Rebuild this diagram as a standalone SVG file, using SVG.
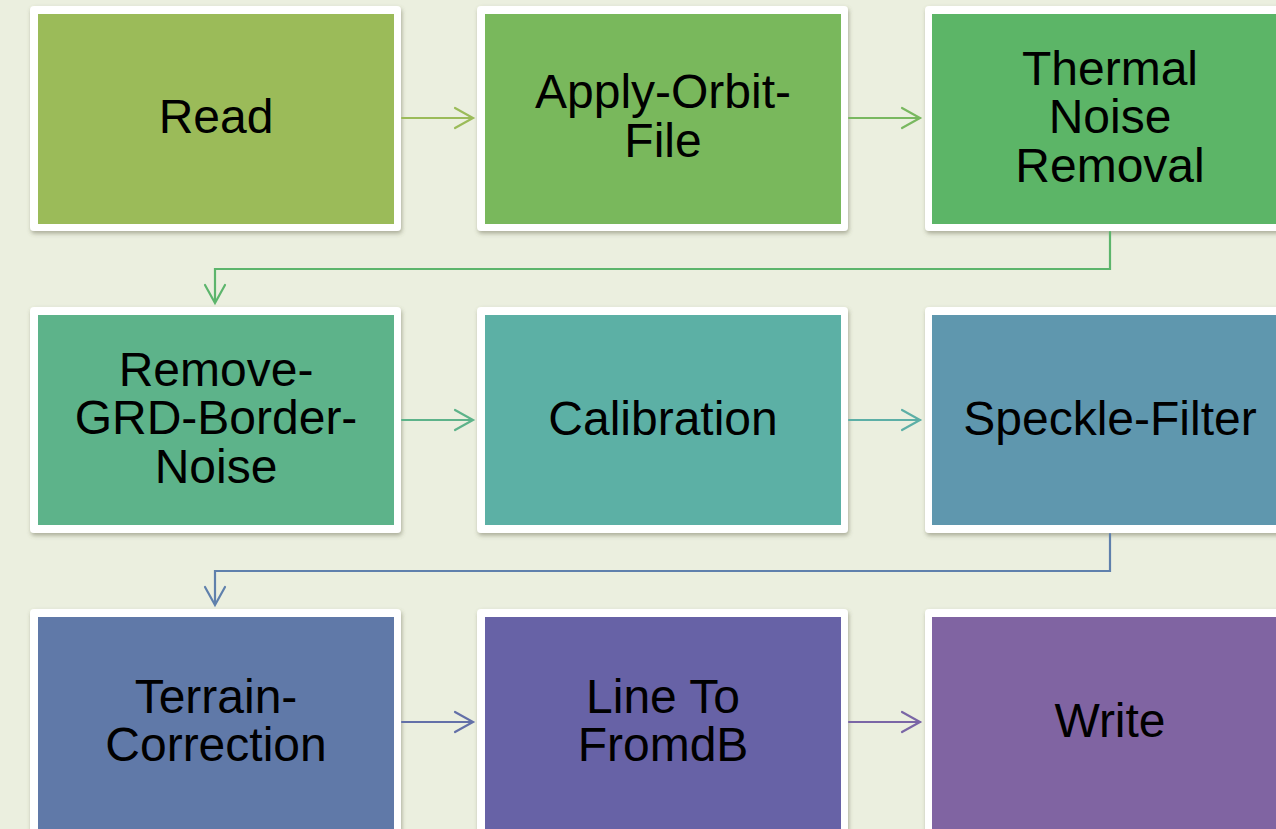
<svg xmlns="http://www.w3.org/2000/svg" width="1276" height="829" viewBox="0 0 1276 829">
<style>
.frame{fill:#ffffff;filter:url(#sh)}
.lbl{font-family:"Liberation Sans",Arial,sans-serif;font-size:48px;fill:#000;text-anchor:middle}
.cn{fill:none;stroke-width:2.2;stroke-linecap:round;stroke-linejoin:miter}
</style>
<defs>
<filter id="sh" x="-5%" y="-5%" width="110%" height="115%">
<feDropShadow dx="1" dy="2.5" stdDeviation="2" flood-color="#5a5a40" flood-opacity="0.45"/>
</filter>
</defs>
<rect width="1276" height="829" fill="#ebefdf"/>

<g id="n1"><rect class="frame" x="30" y="6" width="371" height="225" rx="4"/><rect x="38" y="14" width="356" height="210" fill="#9bbb59"/><text class="lbl" x="216" y="133">Read</text></g>
<g id="n2"><rect class="frame" x="477" y="6" width="371" height="225" rx="4"/><rect x="485" y="14" width="356" height="210" fill="#79b85c"/><text class="lbl" x="663" y="108">Apply-Orbit-</text><text class="lbl" x="663" y="157">File</text></g>
<g id="n3"><rect class="frame" x="925" y="6" width="371" height="225" rx="4"/><rect x="932" y="14" width="356" height="210" fill="#5cb567"/><text class="lbl" x="1110" y="84.5">Thermal</text><text class="lbl" x="1110" y="133.2">Noise</text><text class="lbl" x="1110" y="181.8">Removal</text></g>

<g id="n4"><rect class="frame" x="30" y="307" width="371" height="226" rx="4"/><rect x="38" y="315" width="356" height="210" fill="#5db38a"/><text class="lbl" x="216" y="385.7">Remove-</text><text class="lbl" x="216" y="434.2">GRD-Border-</text><text class="lbl" x="216" y="482.7">Noise</text></g>
<g id="n5"><rect class="frame" x="477" y="307" width="371" height="226" rx="4"/><rect x="485" y="315" width="356" height="210" fill="#5cb0a5"/><text class="lbl" x="663" y="435">Calibration</text></g>
<g id="n6"><rect class="frame" x="925" y="307" width="371" height="226" rx="4"/><rect x="932" y="315" width="356" height="210" fill="#5f97ae"/><text class="lbl" x="1110" y="435">Speckle-Filter</text></g>

<g id="n7"><rect class="frame" x="30" y="609" width="371" height="226" rx="4"/><rect x="38" y="617" width="356" height="212" fill="#6079a8"/><text class="lbl" x="216" y="712.5">Terrain-</text><text class="lbl" x="216" y="761">Correction</text></g>
<g id="n8"><rect class="frame" x="477" y="609" width="371" height="226" rx="4"/><rect x="485" y="617" width="356" height="212" fill="#6762a6"/><text class="lbl" x="663" y="712.7">Line To</text><text class="lbl" x="663" y="761">FromdB</text></g>
<g id="n9"><rect class="frame" x="925" y="609" width="371" height="226" rx="4"/><rect x="932" y="617" width="356" height="212" fill="#8064a2"/><text class="lbl" x="1110" y="737">Write</text></g>

<g id="connectors">
<g stroke="#9bbb59" class="cn"><path d="M402 118H472"/><path d="M455 108L473 118L455 128"/></g>
<g stroke="#79b860" class="cn"><path d="M849 118H920"/><path d="M902 108L920 118L902 128"/></g>
<g stroke="#5cb56c" class="cn"><path d="M1110 232V269H215V302"/><path d="M205 285L215 303L225 285"/></g>
<g stroke="#5db38a" class="cn"><path d="M402 420H472"/><path d="M455 410L473 420L455 430"/></g>
<g stroke="#5cafa6" class="cn"><path d="M849 420H920"/><path d="M902 410L920 420L902 430"/></g>
<g stroke="#5f80ac" class="cn"><path d="M1110 534V571H215V604"/><path d="M205 587L215 605L225 587"/></g>
<g stroke="#6370a8" class="cn"><path d="M402 722H472"/><path d="M455 712L473 722L455 732"/></g>
<g stroke="#7a66a6" class="cn"><path d="M849 722H920"/><path d="M902 712L920 722L902 732"/></g>
</g>
</svg>
